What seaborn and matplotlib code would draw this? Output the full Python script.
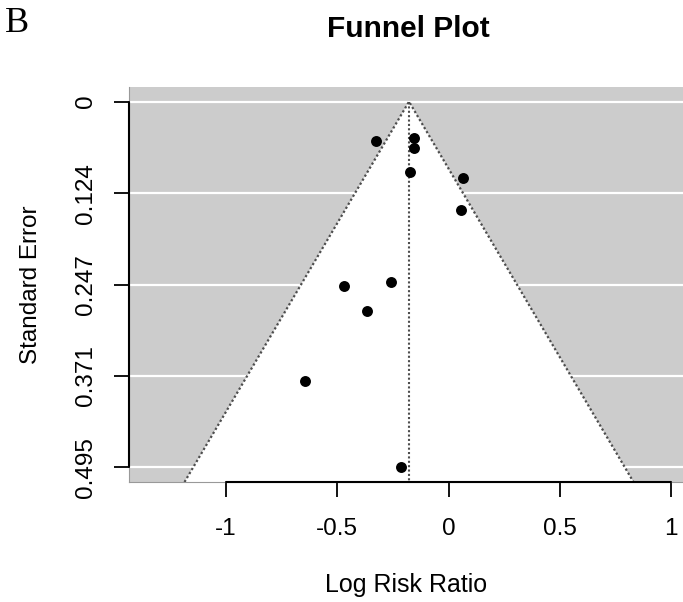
import matplotlib
matplotlib.use("Agg")
import matplotlib.pyplot as plt
import seaborn as sns
import pandas as pd
import numpy as np

# ---- data ----
log_rr = [-0.327, -0.156, -0.156, -0.172, 0.064, 0.056, -0.471, -0.257, -0.365, -0.644, -0.215]
std_err = [0.0533, 0.0492, 0.0628, 0.0949, 0.1035, 0.1465, 0.2499, 0.2441, 0.2830, 0.3780, 0.495]
pooled = -0.1775
x_ticks = [-1, -0.5, 0, 0.5, 1]
x_tick_labels = ["-1", "-0.5", "0", "0.5", "1"]
y_ticks = [0, 0.12375, 0.2475, 0.37125, 0.495]
y_tick_labels = ["0", "0.124", "0.247", "0.371", "0.495"]

df = pd.DataFrame({"Log Risk Ratio": log_rr, "Standard Error": std_err})

sns.set_style("white")
plt.rcParams["font.family"] = ["Liberation Sans", "DejaVu Sans"]
plt.rcParams["axes.unicode_minus"] = False
plt.rcParams["text.color"] = "black"

fig = plt.figure(figsize=(6.83, 6.02), dpi=100)
ax = fig.add_axes([0.1889, 0.1993, 0.8111, 0.6562])

ymax = 0.495
ylo, yhi = -0.0198, 0.5148
xlo, xhi = -1.436, 1.054

ax.set_facecolor("#CCCCCC")
for yt in y_ticks:
    ax.axhline(yt, color="white", lw=1.6, zorder=1)

# funnel region
tri_x = [pooled - 1.96 * yhi, pooled, pooled + 1.96 * yhi]
tri_y = [yhi, 0, yhi]
ax.fill(tri_x, tri_y, color="white", zorder=2, lw=0)
ax.plot(tri_x, tri_y, color="#4d4d4d", lw=1.6, ls=(0, (1, 1.1)), zorder=3)
ax.plot([pooled, pooled], [0, yhi], color="#4d4d4d", lw=1.5, ls=(0, (1, 1.1)), zorder=3)

sns.scatterplot(data=df, x="Log Risk Ratio", y="Standard Error", ax=ax,
                color="black", s=62, edgecolor="black", linewidth=0, zorder=5)

ax.set_xlim(xlo, xhi)
ax.set_ylim(yhi, ylo)

for s in ax.spines.values():
    s.set_color("#999999")
    s.set_linewidth(0.8)
ax.spines["right"].set_visible(False)
ax.spines["top"].set_visible(False)

# R-style axis lines
ax.plot([-1, 1], [yhi, yhi], color="black", lw=1.5, clip_on=False, zorder=6)
ax.plot([xlo, xlo], [0, ymax], color="black", lw=1.5, clip_on=False, zorder=6)

ax.set_xticks(x_ticks)
ax.set_xticklabels(x_tick_labels)
ax.set_yticks(y_ticks)
ax.set_yticklabels(y_tick_labels, rotation=90, va="center")
ax.tick_params(axis="both", direction="out", length=11, width=1.3, color="black",
               labelsize=17.5, labelcolor="black", bottom=True, left=True)
ax.tick_params(axis="x", pad=15)
ax.tick_params(axis="y", pad=12)

ax.set_xlabel("Log Risk Ratio", fontsize=18, labelpad=24, color="black")
ax.set_ylabel("Standard Error", fontsize=17.5, labelpad=24, color="black")

fig.text(408 / 683, 1 - 37 / 602, "Funnel Plot", fontsize=21.5, fontweight="bold",
         ha="center", va="baseline", color="black")
fig.text(5 / 683, 1 - 32 / 602, "B", fontsize=26, family="Liberation Serif",
         ha="left", va="baseline", color="black")

fig.savefig("out.png", dpi=100)
